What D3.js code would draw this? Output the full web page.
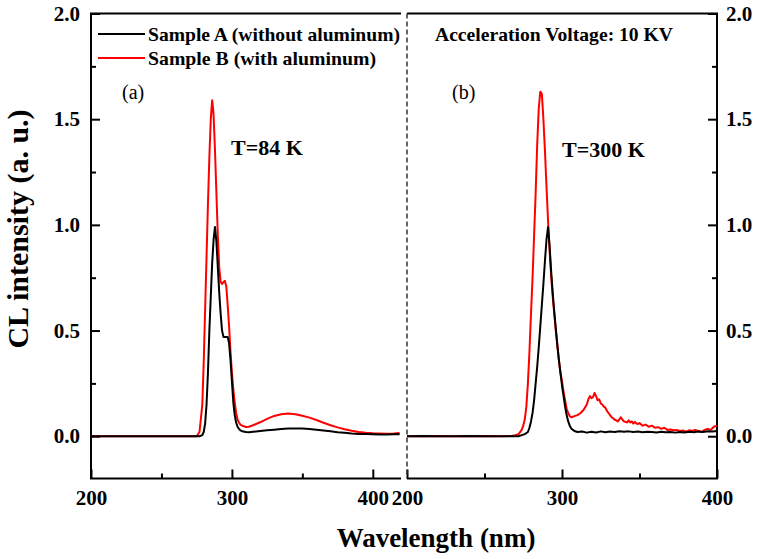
<!DOCTYPE html>
<html><head><meta charset="utf-8">
<script src="https://cdn.jsdelivr.net/npm/d3@7"></script>
<style>body{margin:0;background:#fff}svg{display:block}text{font-family:"Liberation Serif","Times New Roman",serif;}</style>
</head><body><svg id="c" width="758" height="559"></svg>
<script>
// ---- data ----
const wl84 = [200,220,240,260,270,275,277,279,280,281,282,283,284,285,286,287,288,289,290,291,292,293,294,295,296,297,298,299,300,301,302,303,304,305,306,308,310,312,315,320,325,330,335,340,345,350,355,360,365,370,375,380,385,390,395,400,405,410,415,419];
const a84 = [0,0,0,0,0,0,0,0.005,0.02,0.06,0.15,0.3,0.5,0.66,0.82,0.93,0.99,0.92,0.8,0.68,0.58,0.5,0.47,0.47,0.47,0.47,0.44,0.36,0.26,0.16,0.1,0.065,0.045,0.035,0.028,0.022,0.02,0.019,0.021,0.025,0.028,0.031,0.034,0.036,0.037,0.036,0.034,0.031,0.027,0.023,0.019,0.016,0.013,0.011,0.01,0.009,0.008,0.008,0.009,0.009];
const b84 = [0,0,0,0,0,0,0.02,0.15,0.35,0.6,0.85,1.1,1.32,1.5,1.59,1.52,1.35,1.15,0.95,0.8,0.73,0.72,0.73,0.735,0.71,0.62,0.52,0.4,0.3,0.22,0.16,0.11,0.08,0.065,0.055,0.048,0.044,0.045,0.052,0.066,0.082,0.096,0.104,0.107,0.104,0.097,0.088,0.077,0.064,0.052,0.042,0.033,0.026,0.02,0.016,0.014,0.013,0.012,0.013,0.015];

const wl300A = [200,210,220,230,240,250,260,270,272,274,276,278,279,280,281,282,283,284,285,286,287,288,289,290,291,292,293,294,295,296,297,298,299,300,301,302,303,304,305,306,307,308,310,313,316,319,322,325,328,331,334,337,340,343,346,349,352,355,358,361,364,367,370,373,376,379,382,385,388,391,394,397,400];
const a300 = [0,0.001,0,0,0.001,0,0,0,0,0.005,0.01,0.02,0.04,0.07,0.11,0.17,0.25,0.33,0.42,0.52,0.62,0.72,0.83,0.93,0.99,0.9,0.78,0.68,0.59,0.51,0.43,0.36,0.3,0.24,0.19,0.14,0.1,0.07,0.05,0.037,0.03,0.025,0.02,0.022,0.017,0.021,0.018,0.023,0.019,0.022,0.02,0.024,0.021,0.023,0.02,0.022,0.019,0.021,0.02,0.018,0.021,0.019,0.02,0.017,0.02,0.018,0.021,0.019,0.022,0.02,0.024,0.022,0.025];

const wl300B = [200,210,220,230,240,250,260,268,270,272,274,275,276,277,278,279,280,281,282,283,284,285,286,287,288,289,290,291,292,293,294,295,296,297,298,299,300,301,302,303,304,305,306,307,308,310,312,314,316,317,318,319,320,321,322,323,324,325,326,327,328,329,330,331,332,333,334,335,336,337,338,339,340,341,342,343,344,345,346,347,348,349,350,352,354,356,358,360,362,364,366,368,370,372,374,376,378,380,382,384,386,388,390,392,394,396,398,400];
const b300 = [0,0,0.001,0,0,0.001,0,0.002,0.005,0.01,0.03,0.05,0.08,0.14,0.25,0.4,0.58,0.75,0.95,1.15,1.38,1.55,1.63,1.62,1.5,1.35,1.18,1.02,0.88,0.76,0.66,0.58,0.5,0.43,0.36,0.3,0.26,0.21,0.17,0.13,0.11,0.095,0.09,0.092,0.095,0.1,0.11,0.125,0.15,0.175,0.19,0.18,0.185,0.205,0.19,0.17,0.175,0.155,0.15,0.14,0.135,0.12,0.11,0.1,0.09,0.085,0.078,0.075,0.07,0.08,0.09,0.078,0.07,0.068,0.065,0.075,0.065,0.07,0.06,0.068,0.06,0.058,0.062,0.05,0.055,0.045,0.05,0.04,0.043,0.035,0.04,0.03,0.032,0.028,0.03,0.025,0.027,0.022,0.028,0.025,0.03,0.025,0.02,0.03,0.035,0.03,0.045,0.05];

const yMajor = [0,0.5,1.0,1.5,2.0];
const yMinor = [0.25,0.75,1.25,1.75];
const xMajor = [200,300,400];
const xMinor = [250,350];
const legendLabels = ["Sample A (without aluminum)","Sample B (with aluminum)"];
const seriesColors = ["#000000","#ff0000"];

// ---- layout ----
const svg = d3.select("#c");
const yTop = 13.5, yBot = 478.5;
const L = {x0:91, x1:401};
const R = {x0:407, x1:717};
const y = d3.scaleLinear().domain([-0.2,2.0]).range([yBot, yTop]);
const xL = d3.scaleLinear().domain([200,420]).range([L.x0, L.x1]);
const xR = d3.scaleLinear().domain([200,400]).range([R.x0, R.x1]);

const fmt = d3.format(".1f");
function styleAxis(g, size){
  g.select(".domain").remove();
  g.selectAll(".tick line").attr("stroke","#000").attr("stroke-width",2);
  g.selectAll(".tick text").attr("font-size",size).attr("font-weight","bold").attr("fill","#000");
}
// Left y axis
svg.append("g").attr("transform",`translate(${L.x0},0)`)
  .call(d3.axisLeft(y).tickValues(yMajor).tickSize(-9).tickPadding(11).tickFormat(fmt)).call(g=>styleAxis(g,21));
svg.append("g").attr("transform",`translate(${L.x0},0)`)
  .call(d3.axisLeft(y).tickValues(yMinor).tickSize(-5).tickFormat("")).call(g=>styleAxis(g,21));
// Right y axis
svg.append("g").attr("transform",`translate(${R.x1},0)`)
  .call(d3.axisRight(y).tickValues(yMajor).tickSize(-9).tickPadding(9).tickFormat(fmt)).call(g=>styleAxis(g,21));
svg.append("g").attr("transform",`translate(${R.x1},0)`)
  .call(d3.axisRight(y).tickValues(yMinor).tickSize(-5).tickFormat("")).call(g=>styleAxis(g,21));
// Bottom axes
[xL, xR].forEach(xs=>{
  svg.append("g").attr("transform",`translate(0,${yBot})`)
    .call(d3.axisBottom(xs).tickValues(xMajor).tickSize(-9).tickPadding(12).tickFormat(d3.format("d"))).call(g=>styleAxis(g,21));
  svg.append("g").attr("transform",`translate(0,${yBot})`)
    .call(d3.axisBottom(xs).tickValues(xMinor).tickSize(-5).tickFormat("")).call(g=>styleAxis(g,21));
});

// Frame
const frame = svg.append("g").attr("stroke","#000").attr("stroke-width",2).attr("fill","none");
frame.append("path").attr("d",`M${L.x1},${yTop}H${L.x0}V${yBot}H${L.x1}`);
frame.append("path").attr("d",`M${R.x0},${yTop}H${R.x1}V${yBot}H${R.x0}`);
svg.append("line").attr("x1",R.x0).attr("x2",R.x0).attr("y1",yTop).attr("y2",yBot)
  .attr("stroke","#333").attr("stroke-width",1.5).attr("stroke-dasharray","5,3");

// Lines
function drawLine(xs, xsData, ys, color){
  const line = d3.line().x((d,i)=>xs(xsData[i])).y(d=>y(d));
  svg.append("path").datum(ys).attr("d",line).attr("fill","none").attr("stroke",color).attr("stroke-width",2).attr("stroke-linejoin","round");
}
drawLine(xL, wl84, b84, seriesColors[1]);
drawLine(xL, wl84, a84, seriesColors[0]);
drawLine(xR, wl300B, b300, seriesColors[1]);
drawLine(xR, wl300A, a300, seriesColors[0]);

// Legend
const legY = [34,58];
legendLabels.forEach((t,i)=>{
  svg.append("line").attr("x1",98).attr("x2",145).attr("y1",legY[i]).attr("y2",legY[i]).attr("stroke",seriesColors[i]).attr("stroke-width",2);
  svg.append("text").attr("x",148).attr("y",legY[i]+6.5).attr("font-size",19).attr("font-weight","bold").attr("fill","#000")
    .attr("textLength",i===0?252:228).attr("lengthAdjust","spacingAndGlyphs").text(t);
});

// Annotations
svg.append("text").attr("x",435).attr("y",41).attr("font-size",19).attr("font-weight","bold")
  .attr("textLength",238).attr("lengthAdjust","spacingAndGlyphs").text("Acceleration Voltage: 10 KV");
svg.append("text").attr("x",122).attr("y",99).attr("font-size",20).text("(a)");
svg.append("text").attr("x",452).attr("y",99).attr("font-size",20).text("(b)");
svg.append("text").attr("x",231).attr("y",155).attr("font-size",22).attr("font-weight","bold").text("T=84 K");
svg.append("text").attr("x",562).attr("y",157).attr("font-size",22).attr("font-weight","bold").text("T=300 K");

// Axis titles
svg.append("text").attr("x",436).attr("y",547).attr("text-anchor","middle").attr("font-size",27).attr("font-weight","bold").text("Wavelength (nm)");
svg.append("text").attr("transform","translate(28,229) rotate(-90)").attr("text-anchor","middle").attr("font-size",30).attr("font-weight","bold").text("CL intensity (a. u.)");
</script></body></html>
